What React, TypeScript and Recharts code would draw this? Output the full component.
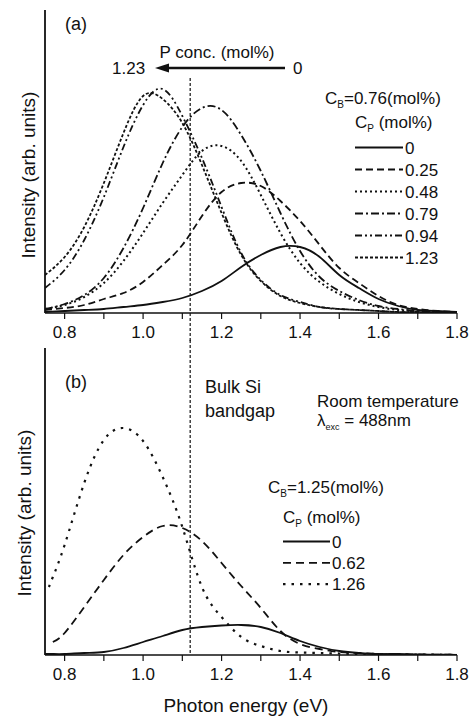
import { Customized, Line, LineChart, ReferenceLine, XAxis, YAxis } from 'recharts'

const FONT = '"Liberation Sans", Arial, Helvetica, sans-serif'
const INK = '#111'

// photon energy grid (eV)
const energyA = [0.75, 0.8, 0.85, 0.9, 0.95, 1.0, 1.05, 1.1, 1.15, 1.2, 1.25, 1.3, 1.35, 1.4, 1.45, 1.5, 1.55, 1.6, 1.65, 1.7, 1.75, 1.8]
const energyB = [0.75, 0.76, 0.77, 0.8, 0.85, 0.9, 0.95, 1.0, 1.05, 1.1, 1.15, 1.2, 1.25, 1.3, 1.35, 1.4, 1.45, 1.5, 1.55, 1.6, 1.65, 1.7, 1.75, 1.8]

// panel (a): C_B = 0.76 mol%
const a_p000 = [1, 2, 3, 4, 6, 8, 11, 15, 22, 32, 46, 58, 66, 66, 56, 38, 25, 14, 7, 3, 2, 1]
const a_p025 = [3, 5, 8, 14, 20, 31, 48, 68, 97, 121, 130, 127, 112, 92, 68, 45, 30, 17, 8, 4, 2, 1]
const a_p048 = [4, 8, 16, 30, 52, 80, 110, 138, 162, 167, 152, 118, 80, 50, 31, 19, 11, 6, 3, 2, 1, 0.5]
const a_p079 = [4, 9, 18, 35, 65, 105, 150, 186, 205, 203, 178, 142, 100, 62, 36, 22, 13, 7, 4, 2, 1, 0.5]
const a_p094 = [25, 43, 73, 116, 166, 208, 224, 197, 155, 106, 60, 33, 18, 11, 6, 4, 3, 2, 1, 1, 0.5, 0.3]
const a_p123 = [38, 56, 86, 130, 180, 217, 214, 190, 148, 100, 58, 32, 17, 10, 6, 4, 3, 2, 1, 1, 0.5, 0.3]

// panel (b): C_B = 1.25 mol%
const b_p000 = [1, 1, 1, 1, 2, 3, 7, 13, 19, 25, 28, 29.5, 30, 28, 22, 14, 8, 4, 2, 1, 1, 0.5, 0.3, 0.2]
const b_p062 = [null, null, 13, 22, 48, 75, 100, 118, 129, 127, 114, 92, 69, 47, 24, 11, 6, 3, 2, 1, 1, 0.5, 0.3, 0.2]
const b_p126 = [null, 68, 78, 110, 172, 215, 227, 214, 178, 128, 68, 38, 18, 9, 4, 2.5, 2, 1.5, 1, 1, 0.5, 0.5, 0.3, 0.2]

const xTicks = [0.8, 0.9, 1.0, 1.1, 1.2, 1.3, 1.4, 1.5, 1.6, 1.7, 1.8]
const BANDGAP = 1.12

const seriesA = [
  { key: 'p000', label: '0', values: a_p000, dash: undefined, width: 1.8 },
  { key: 'p025', label: '0.25', values: a_p025, dash: '7 4', width: 1.8 },
  { key: 'p048', label: '0.48', values: a_p048, dash: '2 3', width: 2 },
  { key: 'p079', label: '0.79', values: a_p079, dash: '8 3 2 3', width: 1.8 },
  { key: 'p094', label: '0.94', values: a_p094, dash: '7 3 2 3 2 3', width: 1.8 },
  { key: 'p123', label: '1.23', values: a_p123, dash: '3 2', width: 1.8 },
]

const seriesB = [
  { key: 'p000', label: '0', values: b_p000, dash: undefined, width: 1.8 },
  { key: 'p062', label: '0.62', values: b_p062, dash: '8 5', width: 1.8 },
  { key: 'p126', label: '1.26', values: b_p126, dash: '2.5 6', width: 2.2 },
]

const dataA = energyA.map((e, i) => {
  const row: Record<string, number | null> = { e }
  seriesA.forEach(s => (row[s.key] = s.values[i]))
  return row
})

const dataB = energyB.map((e, i) => {
  const row: Record<string, number | null> = { e }
  seriesB.forEach(s => (row[s.key] = s.values[i]))
  return row
})

const fmtTick = (v: number) => (Math.round(v * 10) % 2 === 0 ? v.toFixed(1) : '')

const txt = { fontFamily: FONT, fill: INK }

function LegendRows({ items, x1, x2, y0, step }: { items: typeof seriesA; x1: number; x2: number; y0: number; step: number }) {
  return (
    <g>
      {items.map((s, i) => (
        <g key={s.key}>
          <line x1={x1} x2={x2} y1={y0 + i * step} y2={y0 + i * step} stroke={INK} strokeWidth={s.width} strokeDasharray={s.dash} />
          <text x={x2 + 2} y={y0 + i * step + 6} fontSize={17} {...txt}>{s.label}</text>
        </g>
      ))}
    </g>
  )
}

function AnnotationsA() {
  return (
    <g>
      <text x={65} y={30} fontSize={18} {...txt}>(a)</text>
      <text x={217} y={58} fontSize={17} textAnchor="middle" {...txt}>P conc. (mol%)</text>
      <text x={112} y={74} fontSize={17} {...txt}>1.23</text>
      <text x={293} y={74} fontSize={17} {...txt}>0</text>
      <line x1={285} y1={68} x2={164} y2={68} stroke={INK} strokeWidth={2.5} />
      <polygon points="155,68 169,63.5 169,72.5" fill={INK} />
      <text x={325} y={104} fontSize={17} {...txt}>
        C<tspan fontSize={10} dy={4}>B</tspan><tspan dy={-4}>=0.76(mol%)</tspan>
      </text>
      <text x={355} y={128} fontSize={17} {...txt}>
        C<tspan fontSize={10} dy={4}>P</tspan><tspan dy={-4}> (mol%)</tspan>
      </text>
      <LegendRows items={seriesA} x1={355} x2={403} y0={147.5} step={22} />
      <text transform="translate(35,175) rotate(-90)" fontSize={19} textAnchor="middle" {...txt}>Intensity (arb. units)</text>
    </g>
  )
}

function AnnotationsB() {
  return (
    <g>
      <text x={65} y={48} fontSize={18} {...txt}>(b)</text>
      <text x={205} y={53} fontSize={18} {...txt}>Bulk Si</text>
      <text x={205} y={77} fontSize={18} {...txt}>bandgap</text>
      <text x={317} y={67} fontSize={17} {...txt}>Room temperature</text>
      <text x={317} y={86} fontSize={17} {...txt}>
        λ<tspan fontSize={9} dy={4}>exc</tspan><tspan dy={-4}> = 488nm</tspan>
      </text>
      <text x={268} y={153} fontSize={17} {...txt}>
        C<tspan fontSize={10} dy={4}>B</tspan><tspan dy={-4}>=1.25(mol%)</tspan>
      </text>
      <text x={283} y={183} fontSize={17} {...txt}>
        C<tspan fontSize={10} dy={4}>P</tspan><tspan dy={-4}> (mol%)</tspan>
      </text>
      <LegendRows items={seriesB} x1={283} x2={330} y0={201.5} step={21.3} />
      <text transform="translate(31,173) rotate(-90)" fontSize={19} textAnchor="middle" {...txt}>Intensity (arb. units)</text>
      <text x={246} y={372} fontSize={19} textAnchor="middle" {...txt}>Photon energy (eV)</text>
    </g>
  )
}

const bandgapShape = (top: number, bottom: number) => (p: any) => (
  <line x1={p.x1} x2={p.x2} y1={top} y2={bottom} stroke={INK} strokeWidth={1.2} strokeDasharray="3 2" />
)

export default function App() {
  const axisProps = {
    type: 'number' as const,
    dataKey: 'e',
    domain: [0.75, 1.8],
    ticks: xTicks,
    tickFormatter: fmtTick,
    interval: 0 as const,
    tickSize: 6,
    tickMargin: 7,
    stroke: INK,
    tick: { fill: INK, fontSize: 17, fontFamily: FONT },
    axisLine: { stroke: INK, strokeWidth: 1.5 },
    tickLine: { stroke: INK, strokeWidth: 1.2 },
    allowDataOverflow: true,
  }

  return (
    <div style={{ position: 'absolute', left: 0, top: 0, width: 470, height: 717, background: '#fff' }}>
      {/* panel (a) is a bit taller than its slot so the tick labels are not clipped */}
      <div style={{ position: 'absolute', left: 0, top: 0 }}>
        <LineChart width={470} height={350} data={dataA} margin={{ top: 10, right: 13, left: 0, bottom: 10 }}>
          <XAxis {...axisProps} height={27} />
          <YAxis width={45} domain={[0, 303]} tick={false} tickLine={false} axisLine={{ stroke: INK, strokeWidth: 1.8 }} allowDataOverflow />
          <ReferenceLine
            ifOverflow="visible"
            segment={[{ x: BANDGAP, y: 235 }, { x: BANDGAP, y: 0 }]}
            shape={bandgapShape(78, 341)}
          />
          {seriesA.map(s => (
            <Line
              key={s.key}
              dataKey={s.key}
              type="natural"
              stroke={INK}
              strokeWidth={s.width}
              strokeDasharray={s.dash}
              dot={false}
              isAnimationActive={false}
            />
          ))}
          <Customized component={<AnnotationsA />} />
        </LineChart>
      </div>
      <div style={{ position: 'absolute', left: 0, top: 340 }}>
        <LineChart width={470} height={377} data={dataB} margin={{ top: 8, right: 13, left: 0, bottom: 0 }}>
          <XAxis {...axisProps} height={62} />
          <YAxis width={45} domain={[0, 307]} tick={false} tickLine={false} axisLine={{ stroke: INK, strokeWidth: 1.8 }} allowDataOverflow />
          <ReferenceLine
            ifOverflow="visible"
            segment={[{ x: BANDGAP, y: 307 }, { x: BANDGAP, y: 0 }]}
            shape={bandgapShape(0, 315)}
          />
          {seriesB.map(s => (
            <Line
              key={s.key}
              dataKey={s.key}
              type="natural"
              stroke={INK}
              strokeWidth={s.width}
              strokeDasharray={s.dash}
              dot={false}
              connectNulls={false}
              isAnimationActive={false}
            />
          ))}
          <Customized component={<AnnotationsB />} />
        </LineChart>
      </div>
    </div>
  )
}
